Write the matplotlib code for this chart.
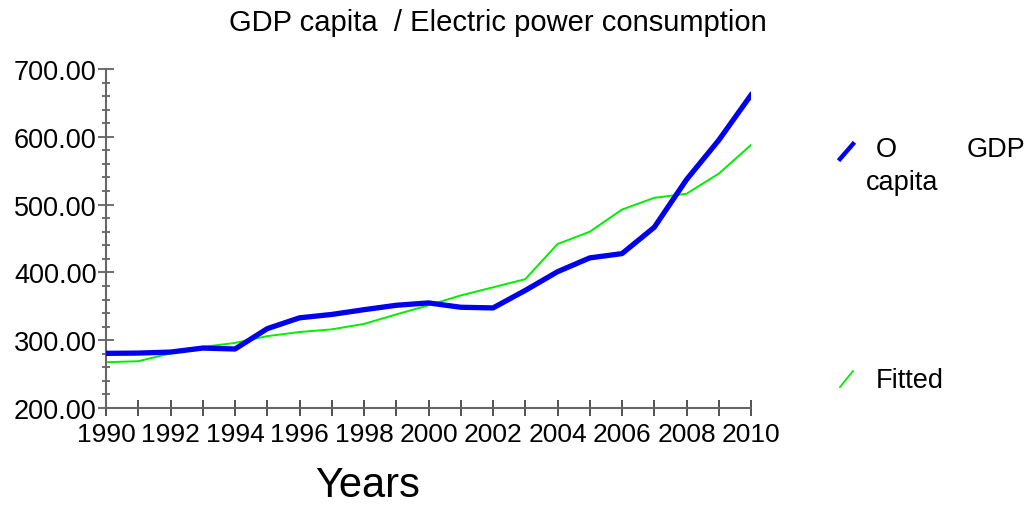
import matplotlib
matplotlib.use("Agg")
import matplotlib.pyplot as plt
from matplotlib.lines import Line2D

plt.rcParams['font.family'] = ['Liberation Sans', 'DejaVu Sans']

years = list(range(1990, 2011))
gdp_capita = [280.6, 281.0, 282.5, 288.4, 287.0, 317.0, 333.0, 338.0, 345.0, 351.5, 355.0,
              348.6, 347.6, 373.4, 401.0, 421.4, 427.7, 466.5, 536.8, 595.0, 661.6]
fitted = [267.5, 269.0, 280.6, 290.0, 296.0, 306.0, 312.0, 316.0, 324.0, 338.0, 351.5,
          366.0, 378.0, 390.0, 441.8, 460.0, 492.7, 510.0, 516.0, 545.6, 588.0]
title = "GDP capita  / Electric power consumption"
xlabel = "Years"
legend_labels = ["O", "GDP", "capita", "Fitted"]

W, H = 1030, 506
fig = plt.figure(figsize=(W / 100, H / 100), dpi=100)
ax = fig.add_axes([106 / W, 1 - 409 / H, (751 - 106) / W, (409 - 70) / H])

ax.plot(years, gdp_capita, color='#0000ee', lw=3.8, solid_joinstyle='round', zorder=3)
ax.plot(years, fitted, color='#00ee00', lw=1.4, zorder=2)

ax.set_xlim(1990, 2010)
ax.set_ylim(200, 700)

for s in ['top', 'right']:
    ax.spines[s].set_visible(False)
for s in ['left', 'bottom']:
    ax.spines[s].set_color('#666666')
    ax.spines[s].set_linewidth(1.5)

ax.set_yticks(range(200, 701, 100))
ax.set_yticklabels([f"{v:.2f}" for v in range(200, 701, 100)])
ax.set_yticks(range(200, 701, 20), minor=True)
ax.set_xticks(years)
ax.set_xticklabels([str(y) if y % 2 == 0 else "" for y in years])

ax.tick_params(axis='y', which='major', direction='inout', length=11.5, width=1.2,
               colors='#555555', labelcolor='black', labelsize=19.5, pad=1)
ax.tick_params(axis='y', which='minor', direction='inout', length=5.8, width=1.2,
               colors='#555555')
ax.tick_params(axis='x', which='major', direction='inout', length=11.5, width=1.2,
               colors='#333333', labelcolor='black', labelsize=19, pad=4.5)

fig.text(498 / W, 1 - 23 / H, title, ha='center', va='center', fontsize=21)
fig.text(368 / W, 1 - 486 / H, xlabel, ha='center', va='center', fontsize=30)

# legend
fig.add_artist(Line2D([840 / W, 853 / W], [1 - 160 / H, 1 - 145 / H],
                      color='#0000ee', lw=3.2, transform=fig.transFigure))
fig.add_artist(Line2D([840 / W, 853 / W], [1 - 388 / H, 1 - 372 / H],
                      color='#00ee00', lw=1.3, transform=fig.transFigure))
fig.text(876 / W, 1 - 150 / H, legend_labels[0], ha='left', va='center', fontsize=19.5)
fig.text(1025 / W, 1 - 150 / H, legend_labels[1], ha='right', va='center', fontsize=19.5)
fig.text(866 / W, 1 - 183 / H, legend_labels[2], ha='left', va='center', fontsize=19.5)
fig.text(876 / W, 1 - 381 / H, legend_labels[3], ha='left', va='center', fontsize=19.5)

fig.savefig("out.png", dpi=100)
